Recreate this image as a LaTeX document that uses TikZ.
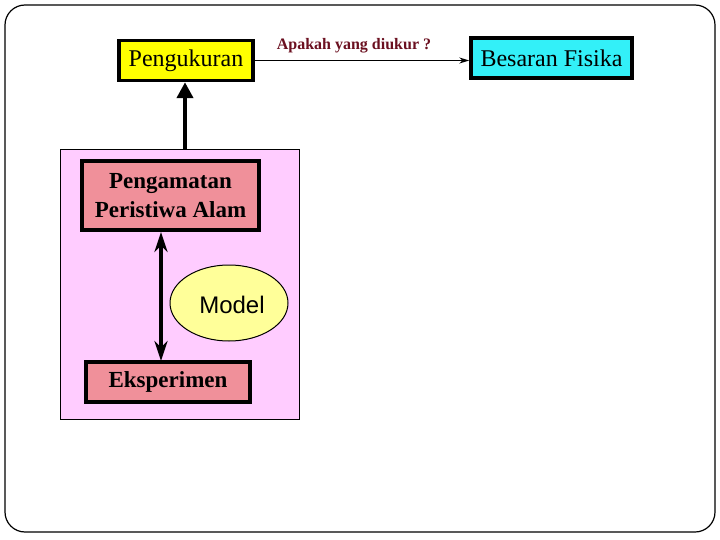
\documentclass[tikz,border=0pt]{standalone}
\usepackage{fontspec}
\setmainfont{Liberation Serif}
\newfontfamily\arialfont{Liberation Sans}
\usetikzlibrary{shapes.geometric,arrows.meta}
\definecolor{boxyellow}{HTML}{FFFF00}
\definecolor{boxcyan}{HTML}{33F0F8}
\definecolor{panelpink}{HTML}{FFCCFF}
\definecolor{boxrose}{HTML}{F0909A}
\definecolor{modelyellow}{HTML}{FFFF99}
\definecolor{labelred}{HTML}{6B1020}
\tikzset{
  thickbox/.style={draw=black, line width=3.4pt, inner sep=0pt, font=\fontsize{24}{26}\selectfont},
}
\begin{document}
\begin{tikzpicture}[x=1pt,y=-1pt]
\useasboundingbox (0,0) rectangle (720,540);
\fill[white] (0,0) rectangle (720,540);
\draw[line width=1.2pt, rounded corners=20pt] (5,5) rectangle (715,532);
% pink panel
\node[draw=black, line width=1pt, fill=panelpink, minimum width=239pt, minimum height=269pt, inner sep=0pt] (panel) at (179.5,284.5) {};
% boxes
\node[thickbox, fill=boxyellow, minimum width=134pt, minimum height=40pt] (ukur) at (186,60.5) {Pengukuran};
\node[thickbox, fill=boxcyan, minimum width=161pt, minimum height=40pt] (besaran) at (551.5,58) {Besaran Fisika};
\node[thickbox, fill=boxrose, minimum width=177pt, minimum height=69pt, align=center, font=\fontsize{23}{29}\selectfont\bfseries] (amat) at (170.5,195.5) {Pengamatan\\Peristiwa Alam};
\node[thickbox, fill=boxrose, minimum width=164pt, minimum height=40pt, font=\fontsize{23}{26}\selectfont\bfseries] (eks) at (168,382) {Eksperimen};
\node[draw=black, line width=1pt, fill=modelyellow, ellipse, minimum width=118pt, minimum height=76pt, inner sep=0pt] (model) at (229,303) {};
\node[font=\arialfont\fontsize{24}{26}\selectfont] (modeltext) at (232,305) {Model};
% connectors
\draw[line width=1.4pt, -{Stealth[length=10pt,width=6pt]}] (ukur.east) -- node[above=3pt, xshift=-8pt, font=\fontsize{16}{18}\selectfont\bfseries, text=labelred] {Apakah yang diukur ?} (ukur.east -| besaran.west);
\coordinate (ptop) at (185,150);
\draw[line width=4pt, -{Triangle[length=16pt,width=16pt]}] (ptop) -- (ukur.south -| ptop);
\coordinate (dtop) at (161,232);
\coordinate (dbot) at (161,361);
\draw[line width=4pt, {Stealth[length=20pt,width=13pt]}-{Stealth[length=20pt,width=13pt]}] (dtop) -- (dbot);
\end{tikzpicture}
\end{document}
